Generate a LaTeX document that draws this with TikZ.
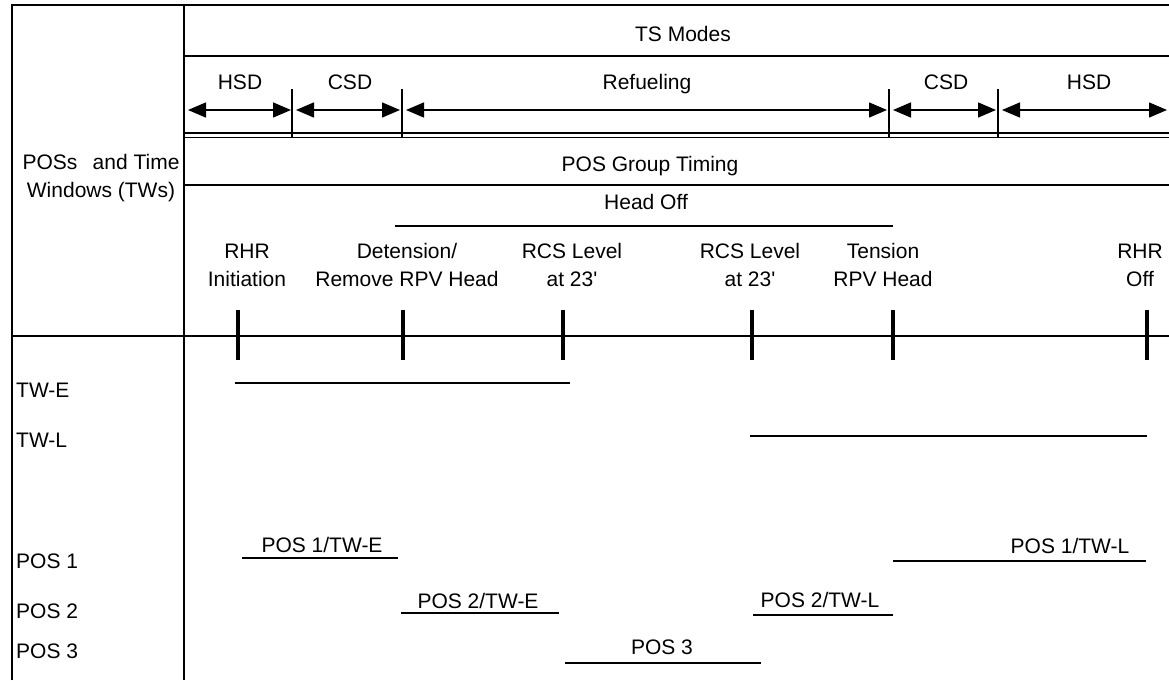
\documentclass[tikz,border=0pt]{standalone}
\usepackage{fontspec}
\setmainfont{Liberation Sans}
\usetikzlibrary{arrows.meta}
\tikzset{
	rule/.style={line width=1.5pt},
	milestone/.style={line width=4.8pt},
	span/.style={line width=1.5pt,{Triangle[length=18pt,width=15pt]}-{Triangle[length=18pt,width=15pt]}},
	lbl/.style={inner sep=0pt,anchor=base,align=center}
}
\begin{document}
\begin{tikzpicture}[x=1pt,y=-1pt,font=\fontsize{21}{28}\selectfont]
			\useasboundingbox (0,0) rectangle (1169,680);
			\draw[rule] (12,680) -- (12,5) -- (1169,5);
			\draw[rule] (184,5) -- (184,680);
			\foreach \y in {56,133,137.5,185}
				\draw[rule] (184,\y) -- (1169,\y);
			\draw[rule] (12,336) -- (1169,336);
			\foreach \x in {292,402,889,998}
				\draw[rule] (\x,89) -- (\x,137.5);

			\draw[span] (188,110) -- (291,110);
			\draw[span] (296,110) -- (400,110);
			\draw[span] (406,110) -- (887,110);
			\draw[span] (893,110) -- (996,110);
			\draw[span] (1002,110) -- (1167,110);

			\node[lbl] (ts) at (683,41) {TS Modes};
			\node[lbl] (hsdA) at (240,89.5) {HSD};
			\node[lbl] (csdA) at (350,89.5) {CSD};
			\node[lbl] (refuel) at (647,89.5) {Refueling};
			\node[lbl] (csdB) at (946,89.5) {CSD};
			\node[lbl] (hsdB) at (1089,89.5) {HSD};
			\node[lbl] (group) at (650,171) {POS Group Timing};
			\node[lbl] (poss) at (101,197) {POSs\hspace{0.45em} and Time\\Windows (TWs)};
			\node[lbl] (head) at (646,209) {Head Off};
			\draw[rule] (395,226) -- (893,226);

			\foreach \x/\t [count=\i] in {247/{RHR\\Initiation},407/{Detension/\\Remove RPV Head},
				572/{RCS Level\\at 23\textquotesingle},750/{RCS Level\\at 23\textquotesingle},
				883/{Tension\\RPV Head},1140/{RHR\\Off}}
				\node[lbl] (ev\i) at (\x,286) {\t};
			\foreach \x in {238,403,563,752,893,1147}
				\draw[milestone] (\x,310) -- (\x,360);

			\foreach \y/\t [count=\i] in {397/TW-E,447/TW-L,568/POS 1,618/POS 2,658/POS 3}
				\node[lbl,anchor=base west] (row\i) at (16,\y) {\t};

			\draw[rule] (235,383) -- (570,383);
			\draw[rule] (750,436) -- (1147,436);

			\node[lbl] (pA) at (322,552) {POS 1/TW-E};
			\draw[rule] (242,558) -- (398,558);
			\node[lbl] (pB) at (1070,553) {POS 1/TW-L};
			\draw[rule] (893,561) -- (1146,561);
			\node[lbl] (pC) at (478,608) {POS 2/TW-E};
			\draw[rule] (401,613) -- (559,613);
			\node[lbl] (pD) at (820,607) {POS 2/TW-L};
			\draw[rule] (753,615) -- (893,615);
			\node[lbl] (pE) at (662,654) {POS 3};
			\draw[rule] (565,663) -- (761,663);
		\end{tikzpicture}
\end{document}
